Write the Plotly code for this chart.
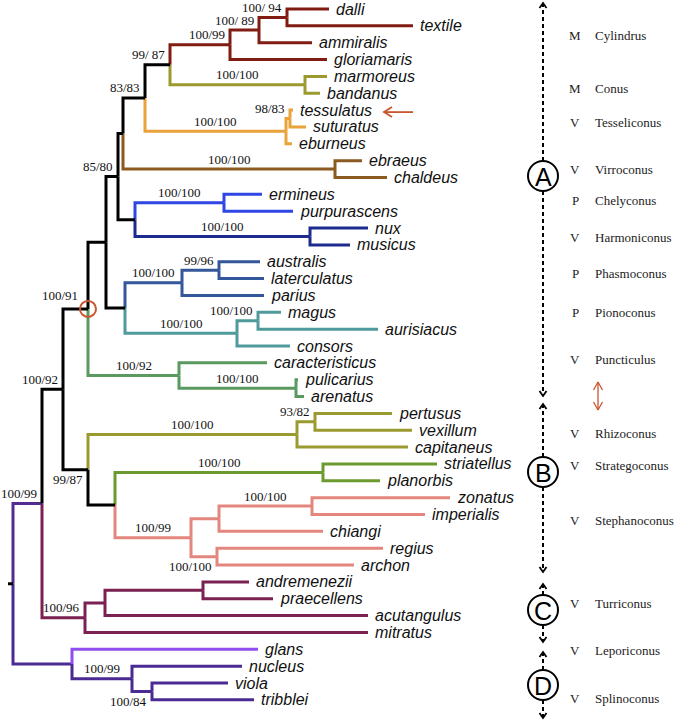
import plotly.graph_objects as go

# ---------------- data ----------------
LEAVES = ["dalli", "textile", "ammiralis", "gloriamaris", "marmoreus", "bandanus",
          "tessulatus", "suturatus", "eburneus", "ebraeus", "chaldeus", "ermineus",
          "purpurascens", "nux", "musicus", "australis", "laterculatus", "parius",
          "magus", "aurisiacus", "consors", "caracteristicus", "pulicarius", "arenatus",
          "pertusus", "vexillum", "capitaneus", "striatellus", "planorbis", "zonatus",
          "imperialis", "chiangi", "regius", "archon", "andremenezii", "praecellens",
          "acutangulus", "mitratus", "glans", "nucleus", "viola", "tribblei"]
LEAF_TIP = [329, 413, 312, 327, 327, 320, 293, 306, 292, 362, 387, 262, 293, 368, 350,
            260, 264, 264, 281, 378, 290, 267, 298, 304, 392, 412, 408, 437, 380, 450,
            425, 323, 383, 354, 249, 273, 368, 368, 258, 242, 228, 254]
LEAF_CLADE = (["Cyl"] * 4 + ["Con"] * 2 + ["Tes"] * 3 + ["Vir"] * 2 + ["Che"] * 2 +
              ["Har"] * 2 + ["Pha"] * 3 + ["Pio"] * 3 + ["Pun"] * 3 + ["Rhi"] * 3 +
              ["Str"] * 2 + ["Ste"] * 5 + ["Tur"] * 4 + ["Lep"] + ["Spl"] * 3)

NODE_ID = ["c1", "c2", "c3", "cn", "n170", "t1", "t2", "n145", "v1", "n123", "ch", "hm",
           "n135", "n118", "p1", "p2", "pi1", "pi2", "n125", "n106", "pu1", "pu2", "n88",
           "r1", "r2", "s1", "st1", "st2", "st3", "st4", "n115", "n88b", "n63", "tu1",
           "tu2", "tu3", "n42", "sp1", "sp2", "n72", "root"]
NODE_X = [287, 259, 230, 305, 170, 290, 286, 145, 335, 123, 224, 310,
          135, 118, 219, 182, 258, 237, 125, 106, 296, 179, 88,
          315, 297, 323, 312, 219, 217, 191, 115, 88, 63, 203,
          105, 85, 42, 152, 132, 72, 13]
NODE_CHILDREN = [["dalli", "textile"], ["c1", "ammiralis"], ["c2", "gloriamaris"],
                 ["marmoreus", "bandanus"], ["c3", "cn"], ["tessulatus", "suturatus"],
                 ["t1", "eburneus"], ["n170", "t2"], ["ebraeus", "chaldeus"], ["n145", "v1"],
                 ["ermineus", "purpurascens"], ["nux", "musicus"], ["ch", "hm"],
                 ["n123", "n135"], ["australis", "laterculatus"], ["p1", "parius"],
                 ["magus", "aurisiacus"], ["pi1", "consors"], ["p2", "pi2"],
                 ["n118", "n125"], ["pulicarius", "arenatus"], ["caracteristicus", "pu1"],
                 ["n106", "pu2"], ["pertusus", "vexillum"], ["r1", "capitaneus"],
                 ["striatellus", "planorbis"], ["zonatus", "imperialis"], ["st1", "chiangi"],
                 ["regius", "archon"], ["st2", "st3"], ["s1", "st4"], ["r2", "n115"],
                 ["n88", "n88b"], ["andremenezii", "praecellens"], ["tu1", "acutangulus"],
                 ["tu2", "mitratus"], ["n63", "tu3"], ["viola", "tribblei"],
                 ["nucleus", "sp1"], ["glans", "sp2"], ["n42", "n72"]]
NODE_CLADE = ["Cyl", "Cyl", "Cyl", "Con", "blk", "Tes", "Tes", "blk", "Vir", "blk", "Che", "Har",
              "blk", "blk", "Pha", "Pha", "Pio", "Pio", "blk", "blk", "Pun", "Pun", "blk",
              "Rhi", "Rhi", "Str", "Ste", "Ste", "Ste", "Ste", "blk", "blk", "blk", "Tur",
              "Tur", "Tur", "rootp", "Spl", "Spl", "Spl", "rootp"]
NODE_SUPPORT = ["100/ 94", "100/ 89", "100/99", "100/100", "99/ 87", "98/83", "100/100", "83/83",
                "100/100", "", "100/100", "100/100", "", "85/80", "99/96", "100/100", "100/100",
                "100/100", "", "", "100/100", "100/92", "100/91", "93/82", "100/100", "100/100",
                "100/100", "", "100/100", "100/99", "", "99/87", "100/92", "", "", "100/96",
                "100/99", "100/84", "100/99", "", ""]
NODE_PLACE = ["right", "right", "right", "mid", "right", "right", "mid", "right",
              "mid", "", "mid", "mid", "", "right", "right", "mid", "right",
              "mid", "", "", "mid", "mid", "rightfar", "right", "mid", "mid",
              "mid", "", "below", "mid", "", "below", "right", "", "", "right",
              "right", "below", "mid", "", ""]

CLADE_COLOR = {"Cyl": "#801c12", "Con": "#9c9a2e", "Tes": "#eaa23a", "Vir": "#8c5a20",
               "Che": "#2f46e4", "Har": "#1d2a8e", "Pha": "#34569a", "Pio": "#4f9a9b",
               "Pun": "#5a9a60", "Rhi": "#9a9a30", "Str": "#6b9a2f", "Ste": "#e3877e",
               "Tur": "#7a2152", "Lep": "#904ff0", "Spl": "#4a2a93", "rootp": "#532c8f",
               "blk": "#000000"}

SUBGENERA = ["Cylindrus", "Conus", "Tesseliconus", "Virroconus", "Chelyconus", "Harmoniconus",
             "Phasmoconus", "Pionoconus", "Puncticulus", "Rhizoconus", "Strategoconus",
             "Stephanoconus", "Turriconus", "Leporiconus", "Splinoconus"]
SUB_DIET = ["M", "M", "V", "V", "P", "V", "P", "P", "V", "V", "V", "V", "V", "V", "V"]
SUB_Y_PX = [35, 88, 122, 169, 200, 237, 273, 312, 359, 433, 465, 520, 603, 650, 698]

GROUPS = ["A", "B", "C", "D"]
GROUP_TOP_PX = [3, 404, 584, 652]
GROUP_BOT_PX = [396, 572, 642, 718]
GROUP_CIRCLE_PX = [176, 472, 610, 685]

# ---------------- layout helpers ----------------
W, H = 677, 724
ROW0, ROWH = 9.0, 16.85          # pixel of first leaf row, pixel per row


def row(px):
    return (px - ROW0) / ROWH


leaf_idx = {n: i for i, n in enumerate(LEAVES)}
leaf_tip = dict(zip(LEAVES, LEAF_TIP))
leaf_col = {n: CLADE_COLOR[c] for n, c in zip(LEAVES, LEAF_CLADE)}
nx = dict(zip(NODE_ID, NODE_X))
nch = dict(zip(NODE_ID, NODE_CHILDREN))
ncol = {n: CLADE_COLOR[c] for n, c in zip(NODE_ID, NODE_CLADE)}
parent = {}
for p, chs in nch.items():
    for c in chs:
        parent[c] = p

ycache = {}


def gety(n):
    if n in leaf_idx:
        return leaf_idx[n]
    if n not in ycache:
        ch = nch[n]
        ycache[n] = (gety(ch[0]) + gety(ch[-1])) / 2
    return ycache[n]


def getx(n):
    return leaf_tip[n] if n in leaf_idx else nx[n]


def getcol(n):
    return leaf_col[n] if n in leaf_idx else ncol[n]


segs = {}
for p in NODE_ID:
    xp, yp = nx[p], gety(p)
    for c in nch[p]:
        col = getcol(c)
        xs, ys = segs.setdefault(col, ([], []))
        xs += [xp, xp, getx(c), None]
        ys += [yp, gety(c), gety(c), None]

fig = go.Figure()
order = [c for c in segs if c != "#000000"] + (["#000000"] if "#000000" in segs else [])
for col in order:
    xs, ys = segs[col]
    fig.add_trace(go.Scatter(x=xs, y=ys, mode="lines", hoverinfo="skip",
                             line=dict(color=col, width=3), showlegend=False))

# root tick
ry = gety("root")
fig.add_trace(go.Scatter(x=[8, nx["root"]], y=[ry, ry], mode="lines", hoverinfo="skip",
                         line=dict(color="#000000", width=3), showlegend=False))

ann = []
# leaf labels
for n in LEAVES:
    ann.append(dict(x=leaf_tip[n] + 5, y=gety(n), text="<i>" + n + "</i>", xanchor="left",
                    yanchor="middle", showarrow=False,
                    font=dict(family="Liberation Sans", size=16, color="#111111")))

# support labels
DY = 10 / ROWH
for n, s, pl in zip(NODE_ID, NODE_SUPPORT, NODE_PLACE):
    if not s:
        continue
    x, y = nx[n], gety(n)
    if pl == "right":
        ax, ay, xa = x - 3, y - DY, "right"
    elif pl == "rightfar":
        ax, ay, xa = x - 8, y - 0.8, "right"
    elif pl == "below":
        ax, ay, xa = x - 3, y + DY, "right"
    else:
        ax, ay, xa = (nx[parent[n]] + x) / 2, y - DY, "center"
    ann.append(dict(x=ax, y=ay, text=s, xanchor=xa, yanchor="middle", showarrow=False,
                    font=dict(family="Liberation Serif", size=13, color="#111111")))

# subgenera labels
for name, d, ypx in zip(SUBGENERA, SUB_DIET, SUB_Y_PX):
    ann.append(dict(x=575, y=row(ypx), text=d, xanchor="center", yanchor="middle",
                    showarrow=False, font=dict(family="Liberation Serif", size=13, color="#222222")))
    ann.append(dict(x=593, y=row(ypx), text=name, xanchor="left", yanchor="middle",
                    showarrow=False, font=dict(family="Liberation Serif", size=13, color="#222222")))

# group dashed arrows with circles
GX = 543
R_PX = 15
shapes = []
for g, t, b, c in zip(GROUPS, GROUP_TOP_PX, GROUP_BOT_PX, GROUP_CIRCLE_PX):
    for y0, y1 in [(t, c - R_PX), (c + R_PX, b)]:
        fig.add_trace(go.Scatter(x=[GX, GX], y=[row(y0), row(y1)], mode="lines",
                                 hoverinfo="skip", showlegend=False,
                                 line=dict(color="#000000", width=2, dash="4px,3px")))
    # arrowheads (open chevrons)
    fig.add_trace(go.Scatter(x=[GX - 3.5, GX, GX + 3.5, None, GX - 3.5, GX, GX + 3.5],
                             y=[row(t + 5), row(t), row(t + 5), None,
                                row(b - 5), row(b), row(b - 5)],
                             mode="lines", hoverinfo="skip", showlegend=False,
                             line=dict(color="#000000", width=1.8)))
    shapes.append(dict(type="circle", xref="x", yref="y", x0=GX - R_PX, x1=GX + R_PX,
                       y0=row(c - R_PX), y1=row(c + R_PX),
                       line=dict(color="#000000", width=2), fillcolor="white"))
    ann.append(dict(x=GX, y=row(c + 1), text=g, xanchor="center", yanchor="middle",
                    showarrow=False, font=dict(family="Liberation Sans", size=25, color="#000000")))

RED = "#c9562f"
# red circle at 100/91 node
cx, cy = nx["n88"], gety("n88")
shapes.append(dict(type="circle", xref="x", yref="y", x0=cx - 8, x1=cx + 8,
                   y0=cy - 8 / ROWH, y1=cy + 8 / ROWH, line=dict(color=RED, width=2)))
# red arrow pointing to tessulatus
ty = gety("tessulatus") + 2 / ROWH
fig.add_trace(go.Scatter(x=[413, 384, None, 392, 384, 392],
                         y=[ty, ty, None, ty - 5 / ROWH, ty, ty + 5 / ROWH],
                         mode="lines", hoverinfo="skip", showlegend=False,
                         line=dict(color=RED, width=1.8)))
# red double arrow
ax_ = 598
y_a, y_b = row(382), row(410)
fig.add_trace(go.Scatter(x=[ax_, ax_, None, ax_ - 4.5, ax_, ax_ + 4.5, None, ax_ - 4.5, ax_, ax_ + 4.5],
                         y=[y_a, y_b, None, y_a + 8 / ROWH, y_a, y_a + 8 / ROWH, None,
                            y_b - 8 / ROWH, y_b, y_b - 8 / ROWH],
                         mode="lines", hoverinfo="skip", showlegend=False,
                         line=dict(color=RED, width=1.3)))

fig.update_layout(
    width=W, height=H, margin=dict(l=0, r=0, t=0, b=0),
    paper_bgcolor="white", plot_bgcolor="white",
    xaxis=dict(range=[0, W], visible=False, fixedrange=True),
    yaxis=dict(range=[row(H), row(0)], visible=False, fixedrange=True),
    annotations=ann, shapes=shapes, showlegend=False,
)
fig.write_html("out.html", config={"displayModeBar": False},
               post_script="document.body.style.margin='0';document.body.style.overflow='hidden';")
